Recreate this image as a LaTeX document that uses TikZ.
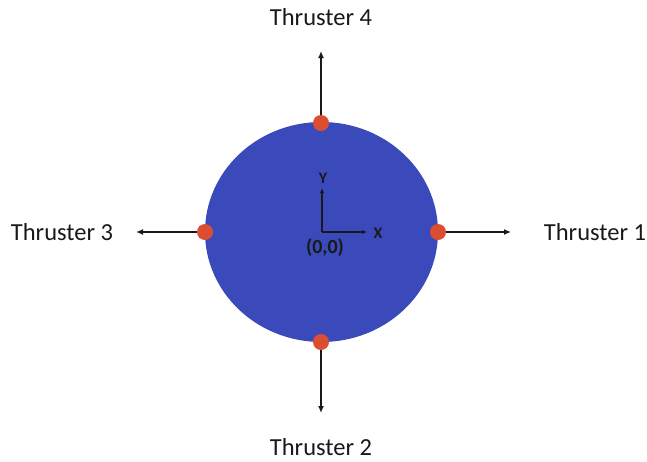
\documentclass[tikz,border=0pt]{standalone}
\usepackage{fontspec}
\setmainfont{Carlito}
\usetikzlibrary{arrows.meta,positioning,shapes.geometric}
\definecolor{bodyblue}{RGB}{58,74,186}
\definecolor{thrustred}{RGB}{220,78,50}
\definecolor{inkgray}{RGB}{25,25,25}

\begin{document}
\begin{tikzpicture}[x=1pt, y=-1pt, >={Latex[length=7pt,width=6pt]},
  every node/.style = {font=\fontsize{24.5}{28}\selectfont, text=inkgray},
  body/.style   = {ellipse, fill=bodyblue, minimum width=233pt,
                   minimum height=220pt, inner sep=0pt},
  thruster/.style = {circle, fill=thrustred, minimum size=16pt,
                   inner sep=0pt},
  label/.style  = {inner sep=0pt},
  axlabel/.style = {inner sep=0pt, font=\bfseries\fontsize{16}{18}\selectfont},
  arrow/.style  = {->, line width=1.4pt, draw=inkgray},
  axis/.style   = {->, line width=1.3pt, draw=inkgray,
                   >={Latex[length=5pt,width=4.5pt]}},
]
  \useasboundingbox (0,0) rectangle (647,461);

  \node[body] (body) at (321.5,232) {};

  % thruster mounting points on the rim
  \coordinate (p1) at (438,232);
  \coordinate (p2) at (321,342);
  \coordinate (p3) at (205,232);
  \coordinate (p4) at (321,123);

  \coordinate (e1) at (511,232);
  \coordinate (e2) at (321,413);
  \coordinate (e3) at (136,232);
  \coordinate (e4) at (321,51);

  \draw[arrow] (p1) -- (e1);
  \draw[arrow] (p2) -- (e2);
  \draw[arrow] (p3) -- (e3);
  \draw[arrow] (p4) -- (e4);

  \node[thruster] (t1) at (p1) {};
  \node[thruster] (t2) at (p2) {};
  \node[thruster] (t3) at (p3) {};
  \node[thruster] (t4) at (p4) {};

  % labels
  \node[label] (lbl1) at (595,232) {Thruster 1};
  \node[label] (lbl2) at (321,447) {Thruster 2};
  \node[label] (lbl3) at (62,232) {Thruster 3};
  \node[label] (lbl4) at (321,17) {Thruster 4};

  % body frame
  \coordinate (o) at (322,232);
  \coordinate (ox) at (367,232);
  \coordinate (oy) at (322,188);
  \draw[axis] (o) -- (ox);
  \draw[axis] (o) -- (oy);
  \node[axlabel] (xl) at (378,233) {X};
  \node[axlabel] (yl) at (323,178) {Y};
  \node[axlabel, font=\bfseries\fontsize{20}{22}\selectfont] (orig) at (325,248) {(0,0)};
\end{tikzpicture}
\end{document}
